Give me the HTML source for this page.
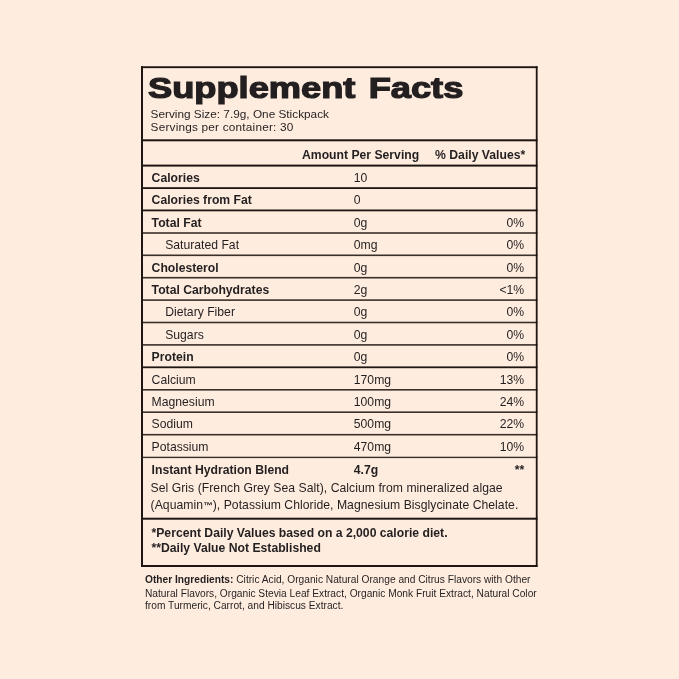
<!DOCTYPE html>
<html><head><meta charset="utf-8"><title>Supplement Facts</title>
<style>
html,body{margin:0;padding:0;background:#feecde;}
#pg{position:relative;will-change:transform;width:679px;height:679px;overflow:hidden;background:#feecde;color:#231f20;}
.t{position:absolute;white-space:nowrap;}
</style></head><body><div id="pg"><svg width="679" height="679" style="position:absolute;left:0;top:0"><rect x="141.0" y="66.25" width="396.50" height="1.9" fill="#1e1613"/><rect x="141.0" y="139.30" width="396.50" height="2.0" fill="#1e1613"/><rect x="141.0" y="164.60" width="396.50" height="2.0" fill="#1e1613"/><rect x="141.0" y="187.20" width="396.50" height="1.8" fill="#1e1613"/><rect x="141.0" y="209.50" width="396.50" height="1.8" fill="#1e1613"/><rect x="141.0" y="232.20" width="396.50" height="1.6" fill="#3a2f29"/><rect x="141.0" y="254.50" width="396.50" height="1.6" fill="#3a2f29"/><rect x="141.0" y="276.90" width="396.50" height="1.6" fill="#3a2f29"/><rect x="141.0" y="299.30" width="396.50" height="1.6" fill="#3a2f29"/><rect x="141.0" y="321.70" width="396.50" height="1.6" fill="#3a2f29"/><rect x="141.0" y="344.10" width="396.50" height="1.6" fill="#3a2f29"/><rect x="141.0" y="366.40" width="396.50" height="1.8" fill="#1e1613"/><rect x="141.0" y="389.00" width="396.50" height="1.6" fill="#3a2f29"/><rect x="141.0" y="411.40" width="396.50" height="1.6" fill="#3a2f29"/><rect x="141.0" y="433.90" width="396.50" height="1.6" fill="#3a2f29"/><rect x="141.0" y="456.70" width="396.50" height="1.4" fill="#3a2f29"/><rect x="141.0" y="517.70" width="396.50" height="2.0" fill="#1e1613"/><rect x="141.0" y="565.00" width="396.50" height="2.0" fill="#1e1613"/><rect x="141.00" y="66.2" width="2.0" height="500.80" fill="#1e1613"/><rect x="535.80" y="66.2" width="1.8" height="500.80" fill="#1e1613"/></svg>
<div class="t" style="top:70.65px;font-size:29px;line-height:34.8px;font-family:'Liberation Sans', Arial, sans-serif;font-weight:bold;left:148.20px;transform:scaleX(1.25);transform-origin:left;-webkit-text-stroke:1.2px #231f20;word-spacing:2.5px;">Supplement Facts</div>
<div class="t" style="top:106.63px;font-size:11.8px;line-height:14.16px;font-family:'Liberation Sans', Arial, sans-serif;left:150.60px;">Serving Size: 7.9g, One Stickpack</div>
<div class="t" style="top:119.73px;font-size:11.8px;line-height:14.16px;font-family:'Liberation Sans', Arial, sans-serif;letter-spacing:0.2px;left:150.60px;">Servings per container: 30</div>
<div class="t" style="top:147.65px;font-size:12.2px;line-height:14.64px;font-family:'Liberation Sans', Arial, sans-serif;font-weight:bold;left:302.00px;">Amount Per Serving</div>
<div class="t" style="top:147.65px;font-size:12.2px;line-height:14.64px;font-family:'Liberation Sans', Arial, sans-serif;font-weight:bold;right:153.80px;">% Daily Values*</div>
<div class="t" style="top:170.86px;font-size:12.2px;line-height:14.64px;font-family:'Liberation Sans', Arial, sans-serif;font-weight:bold;left:151.60px;">Calories</div>
<div class="t" style="top:170.86px;font-size:12.2px;line-height:14.64px;font-family:'Liberation Sans', Arial, sans-serif;left:353.80px;">10</div>
<div class="t" style="top:193.28px;font-size:12.2px;line-height:14.64px;font-family:'Liberation Sans', Arial, sans-serif;font-weight:bold;left:151.60px;">Calories from Fat</div>
<div class="t" style="top:193.28px;font-size:12.2px;line-height:14.64px;font-family:'Liberation Sans', Arial, sans-serif;left:353.80px;">0</div>
<div class="t" style="top:215.70px;font-size:12.2px;line-height:14.64px;font-family:'Liberation Sans', Arial, sans-serif;font-weight:bold;left:151.60px;">Total Fat</div>
<div class="t" style="top:215.70px;font-size:12.2px;line-height:14.64px;font-family:'Liberation Sans', Arial, sans-serif;left:353.80px;">0g</div>
<div class="t" style="top:215.70px;font-size:12.2px;line-height:14.64px;font-family:'Liberation Sans', Arial, sans-serif;right:154.80px;">0%</div>
<div class="t" style="top:238.12px;font-size:12.2px;line-height:14.64px;font-family:'Liberation Sans', Arial, sans-serif;left:165.20px;">Saturated Fat</div>
<div class="t" style="top:238.12px;font-size:12.2px;line-height:14.64px;font-family:'Liberation Sans', Arial, sans-serif;left:353.80px;">0mg</div>
<div class="t" style="top:238.12px;font-size:12.2px;line-height:14.64px;font-family:'Liberation Sans', Arial, sans-serif;right:154.80px;">0%</div>
<div class="t" style="top:260.54px;font-size:12.2px;line-height:14.64px;font-family:'Liberation Sans', Arial, sans-serif;font-weight:bold;left:151.60px;">Cholesterol</div>
<div class="t" style="top:260.54px;font-size:12.2px;line-height:14.64px;font-family:'Liberation Sans', Arial, sans-serif;left:353.80px;">0g</div>
<div class="t" style="top:260.54px;font-size:12.2px;line-height:14.64px;font-family:'Liberation Sans', Arial, sans-serif;right:154.80px;">0%</div>
<div class="t" style="top:282.96px;font-size:12.2px;line-height:14.64px;font-family:'Liberation Sans', Arial, sans-serif;font-weight:bold;left:151.60px;">Total Carbohydrates</div>
<div class="t" style="top:282.96px;font-size:12.2px;line-height:14.64px;font-family:'Liberation Sans', Arial, sans-serif;left:353.80px;">2g</div>
<div class="t" style="top:282.96px;font-size:12.2px;line-height:14.64px;font-family:'Liberation Sans', Arial, sans-serif;right:154.80px;">&lt;1%</div>
<div class="t" style="top:305.38px;font-size:12.2px;line-height:14.64px;font-family:'Liberation Sans', Arial, sans-serif;left:165.20px;">Dietary Fiber</div>
<div class="t" style="top:305.38px;font-size:12.2px;line-height:14.64px;font-family:'Liberation Sans', Arial, sans-serif;left:353.80px;">0g</div>
<div class="t" style="top:305.38px;font-size:12.2px;line-height:14.64px;font-family:'Liberation Sans', Arial, sans-serif;right:154.80px;">0%</div>
<div class="t" style="top:327.80px;font-size:12.2px;line-height:14.64px;font-family:'Liberation Sans', Arial, sans-serif;left:165.20px;">Sugars</div>
<div class="t" style="top:327.80px;font-size:12.2px;line-height:14.64px;font-family:'Liberation Sans', Arial, sans-serif;left:353.80px;">0g</div>
<div class="t" style="top:327.80px;font-size:12.2px;line-height:14.64px;font-family:'Liberation Sans', Arial, sans-serif;right:154.80px;">0%</div>
<div class="t" style="top:350.22px;font-size:12.2px;line-height:14.64px;font-family:'Liberation Sans', Arial, sans-serif;font-weight:bold;left:151.60px;">Protein</div>
<div class="t" style="top:350.22px;font-size:12.2px;line-height:14.64px;font-family:'Liberation Sans', Arial, sans-serif;left:353.80px;">0g</div>
<div class="t" style="top:350.22px;font-size:12.2px;line-height:14.64px;font-family:'Liberation Sans', Arial, sans-serif;right:154.80px;">0%</div>
<div class="t" style="top:372.64px;font-size:12.2px;line-height:14.64px;font-family:'Liberation Sans', Arial, sans-serif;left:151.60px;">Calcium</div>
<div class="t" style="top:372.64px;font-size:12.2px;line-height:14.64px;font-family:'Liberation Sans', Arial, sans-serif;left:353.80px;">170mg</div>
<div class="t" style="top:372.64px;font-size:12.2px;line-height:14.64px;font-family:'Liberation Sans', Arial, sans-serif;right:154.80px;">13%</div>
<div class="t" style="top:395.06px;font-size:12.2px;line-height:14.64px;font-family:'Liberation Sans', Arial, sans-serif;left:151.60px;">Magnesium</div>
<div class="t" style="top:395.06px;font-size:12.2px;line-height:14.64px;font-family:'Liberation Sans', Arial, sans-serif;left:353.80px;">100mg</div>
<div class="t" style="top:395.06px;font-size:12.2px;line-height:14.64px;font-family:'Liberation Sans', Arial, sans-serif;right:154.80px;">24%</div>
<div class="t" style="top:417.48px;font-size:12.2px;line-height:14.64px;font-family:'Liberation Sans', Arial, sans-serif;left:151.60px;">Sodium</div>
<div class="t" style="top:417.48px;font-size:12.2px;line-height:14.64px;font-family:'Liberation Sans', Arial, sans-serif;left:353.80px;">500mg</div>
<div class="t" style="top:417.48px;font-size:12.2px;line-height:14.64px;font-family:'Liberation Sans', Arial, sans-serif;right:154.80px;">22%</div>
<div class="t" style="top:439.90px;font-size:12.2px;line-height:14.64px;font-family:'Liberation Sans', Arial, sans-serif;left:151.60px;">Potassium</div>
<div class="t" style="top:439.90px;font-size:12.2px;line-height:14.64px;font-family:'Liberation Sans', Arial, sans-serif;left:353.80px;">470mg</div>
<div class="t" style="top:439.90px;font-size:12.2px;line-height:14.64px;font-family:'Liberation Sans', Arial, sans-serif;right:154.80px;">10%</div>
<div class="t" style="top:462.85px;font-size:12.2px;line-height:14.64px;font-family:'Liberation Sans', Arial, sans-serif;font-weight:bold;left:151.60px;">Instant Hydration Blend</div>
<div class="t" style="top:462.85px;font-size:12.2px;line-height:14.64px;font-family:'Liberation Sans', Arial, sans-serif;font-weight:bold;left:353.80px;">4.7g</div>
<div class="t" style="top:462.85px;font-size:12.2px;line-height:14.64px;font-family:'Liberation Sans', Arial, sans-serif;font-weight:bold;right:154.80px;">**</div>
<div class="t" style="top:481.35px;font-size:12.2px;line-height:14.64px;font-family:'Liberation Sans', Arial, sans-serif;letter-spacing:0.04px;left:150.60px;">Sel Gris (French Grey Sea Salt), Calcium from mineralized algae</div>
<div class="t" style="top:498.05px;font-size:12.2px;line-height:14.64px;font-family:'Liberation Sans', Arial, sans-serif;letter-spacing:0.04px;left:150.60px;">(Aquamin<span style="font-size:9.6px;font-weight:bold">™</span>), Potassium Chloride, Magnesium Bisglycinate Chelate.</div>
<div class="t" style="top:525.65px;font-size:12.2px;line-height:14.64px;font-family:'Liberation Sans', Arial, sans-serif;font-weight:bold;left:151.50px;">*Percent Daily Values based on a 2,000 calorie diet.</div>
<div class="t" style="top:541.15px;font-size:12.2px;line-height:14.64px;font-family:'Liberation Sans', Arial, sans-serif;font-weight:bold;left:151.50px;">**Daily Value Not Established</div>
<div class="t" style="top:574.43px;font-size:10.0px;line-height:12.0px;font-family:'Liberation Sans', Arial, sans-serif;left:144.60px;transform:scaleX(1.02);transform-origin:left;"><b>Other Ingredients:</b> Citric Acid, Organic Natural Orange and Citrus Flavors with Other</div>
<div class="t" style="top:587.83px;font-size:10.0px;line-height:12.0px;font-family:'Liberation Sans', Arial, sans-serif;left:144.60px;transform:scaleX(1.02);transform-origin:left;">Natural Flavors, Organic Stevia Leaf Extract, Organic Monk Fruit Extract, Natural Color</div>
<div class="t" style="top:599.83px;font-size:10.0px;line-height:12.0px;font-family:'Liberation Sans', Arial, sans-serif;left:144.60px;transform:scaleX(1.02);transform-origin:left;">from Turmeric, Carrot, and Hibiscus Extract.</div>
</div></body></html>
